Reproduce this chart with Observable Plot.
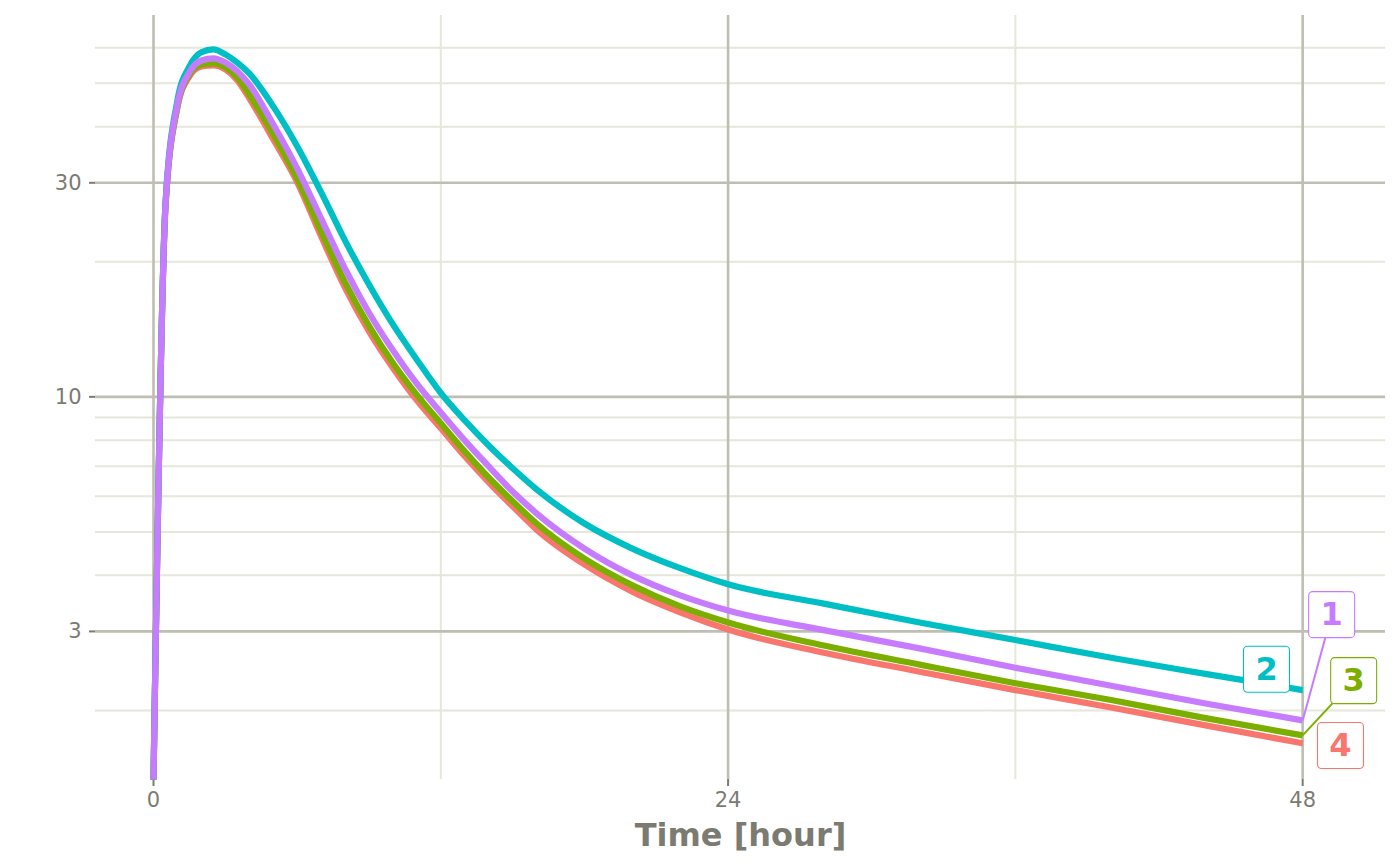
<!DOCTYPE html>
<html>
<head>
<meta charset="utf-8">
<script src="https://cdn.jsdelivr.net/npm/d3@7"></script>
<script src="https://cdn.jsdelivr.net/npm/@observablehq/plot@0.6"></script>
<style>
  body { margin: 0; background: #fff; }
</style>
</head>
<body>
<div id="chart"></div>
<script>
// sampling times (hour)
const times = [0, 0.5, 1, 1.5, 2, 2.5, 3, 3.5, 4, 5, 6, 7, 8, 9, 10, 11, 12, 13, 14, 15, 16, 18, 20, 22, 24, 28, 32, 36, 40, 44, 48];

// concentration per profile (0 at time 0 sits on the panel edge, like ggplot's -Inf)
const conc1 = [0, 26.7, 44.9, 52.9, 56.2, 56.8, 55.6, 53.2, 49.7, 40.5, 32.3, 25.0, 19.3, 15.4, 12.7, 10.7, 9.23, 8.00, 7.00, 6.15, 5.50, 4.59, 4.00, 3.61, 3.34, 3.02, 2.75, 2.49, 2.27, 2.07, 1.90];
const conc2 = [0, 27.0, 45.8, 54.5, 58.6, 59.5, 58.0, 55.6, 52.6, 44.4, 36.2, 28.6, 22.3, 17.8, 14.5, 12.1, 10.2, 8.86, 7.79, 6.93, 6.22, 5.22, 4.59, 4.15, 3.82, 3.46, 3.14, 2.87, 2.62, 2.41, 2.22];
const conc3 = [0, 26.6, 44.4, 52.3, 55.1, 55.4, 54.3, 51.5, 47.2, 38.5, 30.7, 23.4, 18.0, 14.4, 11.9, 10.1, 8.73, 7.56, 6.61, 5.85, 5.22, 4.36, 3.80, 3.41, 3.14, 2.79, 2.53, 2.30, 2.11, 1.92, 1.76];
const conc4 = [0, 26.4, 44.2, 51.8, 54.5, 54.8, 53.7, 50.8, 46.3, 37.5, 30.1, 22.8, 17.5, 14.0, 11.6, 9.82, 8.51, 7.37, 6.45, 5.70, 5.06, 4.23, 3.68, 3.31, 3.03, 2.69, 2.44, 2.22, 2.03, 1.85, 1.69];

// draw order: 4, 3, 2, 1 (1 ends on top)
const ids = ["4", "3", "2", "1"];
const seriesConc = {"1": conc1, "2": conc2, "3": conc3, "4": conc4};
const idColors = ["#C77CFF", "#00BFC4", "#7CAE00", "#F8766D"]; // for 1,2,3,4

// repelled labels
const labelIds = ["1", "2", "3", "4"];
const labelTimes = [49.21, 46.49, 50.13, 49.58];
const labelConcs = [3.27, 2.47, 2.33, 1.67];
const labelLinked = [true, false, true, false];

// axes / grid
const majorX = [0, 24, 48];
const minorX = [12, 36];
const majorY = [3, 10, 30];
const minorY = [2, 4, 5, 6, 7, 8, 9, 20, 40, 50, 60];

const yMin = 1.403, yMax = 70.8;
const xMin = -2.423, xMax = 51.46;
const grey = "#7b7b72";

const rows = ids.flatMap(id => times.map((t, i) => ({id, time: t, conc: seriesConc[id][i]})));
const labels = labelIds.map((id, i) => ({
  id, t: labelTimes[i], c: labelConcs[i], linked: labelLinked[i],
  endT: times[times.length - 1], endC: seriesConc[id][times.length - 1]
}));

// rounded square symbol for label boxes
const roundBox = {
  draw(context, size) {
    const h = Math.sqrt(size / Math.PI), c = 4;
    context.moveTo(-h + c, -h);
    context.lineTo(h - c, -h);
    context.arcTo(h, -h, h, -h + c, c);
    context.lineTo(h, h - c);
    context.arcTo(h, h, h - c, h, c);
    context.lineTo(-h + c, h);
    context.arcTo(-h, h, -h, h - c, c);
    context.lineTo(-h, -h + c);
    context.arcTo(-h, -h, -h + c, -h, c);
    context.closePath();
  }
};

const plot = Plot.plot({
  width: 1400,
  height: 865,
  marginTop: 15,
  marginBottom: 86,
  marginLeft: 95,
  marginRight: 15,
  style: {fontFamily: "DejaVu Sans", color: grey, background: "#fff"},
  x: {domain: [xMin, xMax], label: null},
  y: {type: "log", domain: [yMin, yMax], label: null},
  color: {domain: labelIds, range: idColors},
  marks: [
    Plot.ruleY(minorY, {stroke: "#e6e6da", strokeWidth: 2}),
    Plot.ruleX(minorX, {stroke: "#e6e6da", strokeWidth: 2}),
    Plot.ruleY(majorY, {stroke: "#bebeb3", strokeWidth: 2.6}),
    Plot.ruleX(majorX, {stroke: "#bebeb3", strokeWidth: 2.6}),
    Plot.axisX(majorX, {tickSize: 7, tickPadding: 6, fontSize: 21, strokeWidth: 2, label: null, tickFormat: d => String(d)}),
    Plot.axisY(majorY, {tickSize: 6, tickPadding: 8, fontSize: 21, strokeWidth: 2, label: null, tickFormat: d => String(d)}),
    Plot.text(["Time [hour]"], {frameAnchor: "bottom", dy: 66, fontSize: 32, fontWeight: "bold", fill: grey}),
    Plot.line(rows, {
      x: "time",
      y: d => Math.max(d.conc, yMin),
      z: "id",
      stroke: "id",
      strokeWidth: 6.2,
      curve: "monotone-x",
      strokeLinejoin: "round",
      strokeLinecap: "butt"
    }),
    Plot.link(labels.filter(d => d.linked), {
      x1: "endT", y1: "endC", x2: "t", y2: "c",
      stroke: "id", strokeWidth: 2
    }),
    Plot.dot(labels, {x: "t", y: "c", r: 23, symbol: roundBox, fill: "white", stroke: "id", strokeWidth: 1.1}),
    Plot.text(labels, {x: "t", y: "c", text: "id", fill: "id", fontSize: 32, fontWeight: "bold"})
  ]
});

document.querySelector("#chart").append(plot);
</script>
</body>
</html>
